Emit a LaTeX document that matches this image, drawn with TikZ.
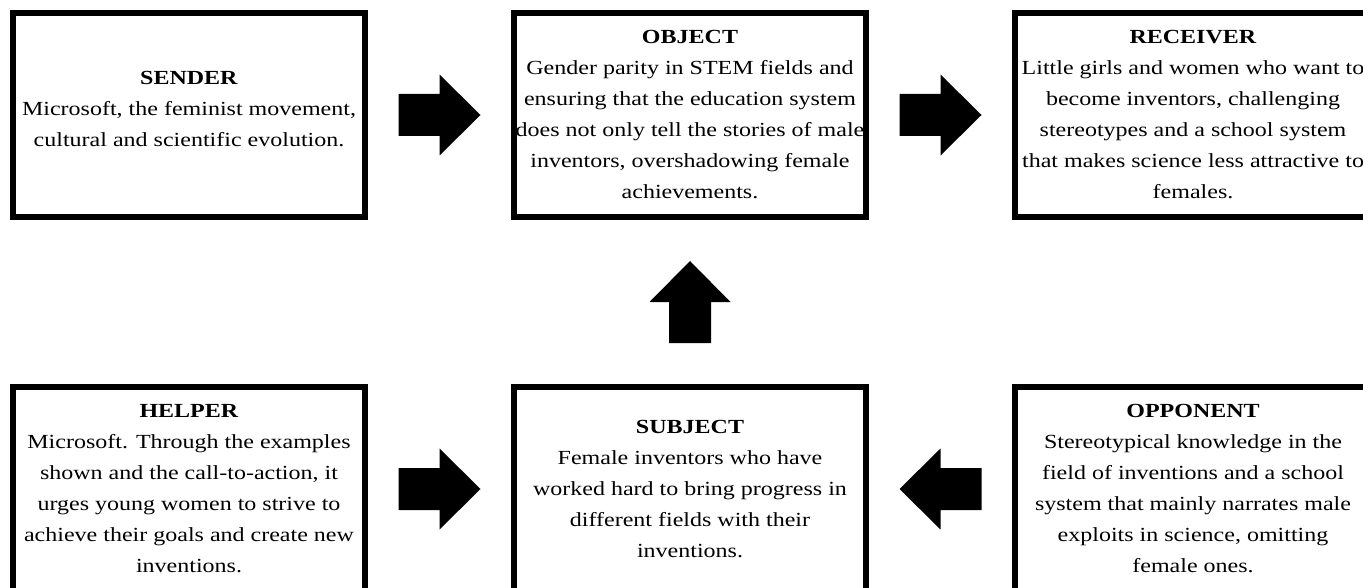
\documentclass[tikz,border=0pt]{standalone}
\usepackage{fontspec}
\setmainfont[FakeStretch=1.2]{Liberation Serif}
\usetikzlibrary{calc}
\tikzset{
  actbox/.style={draw=black, line width=6pt, fill=white, minimum width=352pt, minimum height=204pt,
    inner sep=0pt, align=center, font=\fontsize{20}{31}\selectfont},
  widebox/.style={actbox, minimum width=356pt},
  blockarrow/.pic={\fill[black] (-41,-21) -- (0,-21) -- (0,-40.5) -- (41,0) -- (0,40.5) -- (0,21) -- (-41,21) -- cycle;}
}
\begin{document}
\begin{tikzpicture}[x=1pt,y=-1pt]
\useasboundingbox (0,0) rectangle (1363,588);
\node[actbox] (sender) at (189,115) {\textbf{SENDER}\\Microsoft, the feminist movement,\\cultural and scientific evolution.\\[-19pt]};
\node[actbox] (object) at (690,115) {\textbf{OBJECT}\\Gender parity in STEM fields and\\ensuring that the education system\\does not only tell the stories of male\\inventors, overshadowing female\\achievements.};
\node[widebox] (receiver) at (1193,115) {\textbf{RECEIVER}\\Little girls and women who want to\\become inventors, challenging\\stereotypes and a school system\\that makes science less attractive to\\females.};
\node[actbox] (helper) at (189,489) {\textbf{HELPER}\\Microsoft. Through the examples\\shown and the call-to-action, it\\urges young women to strive to\\achieve their goals and create new\\inventions.};
\node[actbox] (subject) at (690,489) {\textbf{SUBJECT}\\Female inventors who have\\worked hard to bring progress in\\different fields with their\\inventions.};
\node[widebox] (opponent) at (1193,489) {\textbf{OPPONENT}\\Stereotypical knowledge in the\\field of inventions and a school\\system that mainly narrates male\\exploits in science, omitting\\female ones.};
\path ($(sender.east)!0.5!(object.west)$) pic {blockarrow};
\path ($(object.east)!0.5!(receiver.west)$) pic {blockarrow};
\path ($(helper.east)!0.5!(subject.west)$) pic {blockarrow};
\path ($(subject.east)!0.5!(opponent.west)$) pic[rotate=180] {blockarrow};
\path ($(subject.north)!0.5!(object.south)$) pic[rotate=90] {blockarrow};
\end{tikzpicture}
\end{document}
